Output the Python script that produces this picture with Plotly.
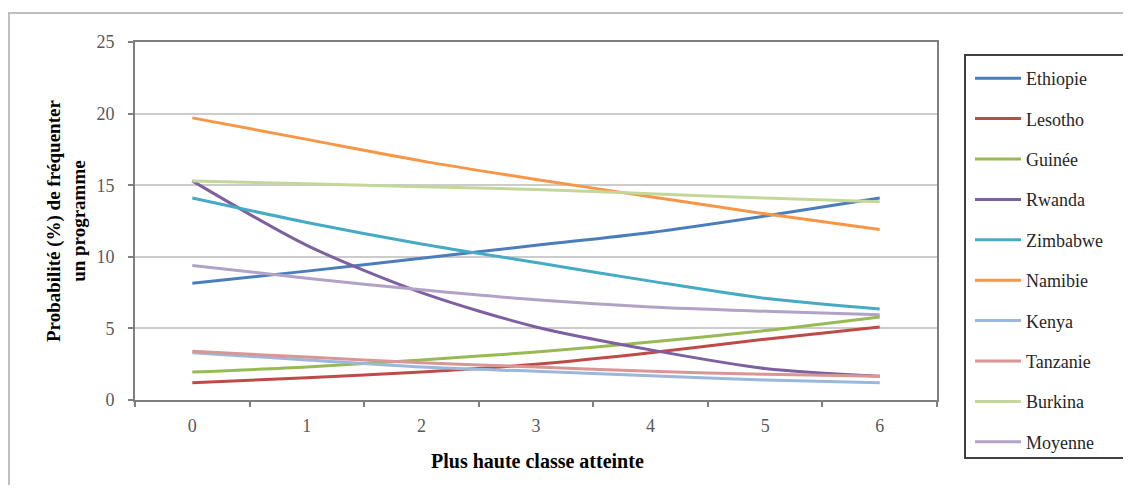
import plotly.graph_objects as go

# ---- data ----
classes = ["0", "1", "2", "3", "4", "5", "6"]
series_names = ["Ethiopie", "Lesotho", "Guinée", "Rwanda", "Zimbabwe",
                "Namibie", "Kenya", "Tanzanie", "Burkina", "Moyenne"]
ethiopie = [8.15, 9.0, 9.9, 10.8, 11.7, 12.85, 14.1]
lesotho = [1.2, 1.55, 1.95, 2.5, 3.3, 4.25, 5.1]
guinee = [1.95, 2.3, 2.8, 3.35, 4.05, 4.85, 5.8]
rwanda = [15.3, 10.8, 7.5, 5.1, 3.5, 2.2, 1.65]
zimbabwe = [14.1, 12.4, 10.9, 9.6, 8.3, 7.1, 6.35]
namibie = [19.7, 18.2, 16.7, 15.4, 14.2, 13.0, 11.9]
kenya = [3.3, 2.8, 2.3, 2.0, 1.7, 1.4, 1.2]
tanzanie = [3.4, 3.0, 2.6, 2.3, 2.0, 1.8, 1.65]
burkina = [15.3, 15.1, 14.9, 14.7, 14.4, 14.1, 13.85]
moyenne = [9.4, 8.5, 7.7, 7.0, 6.5, 6.2, 5.95]
y_ticks = [0, 5, 10, 15, 20, 25]

values = [ethiopie, lesotho, guinee, rwanda, zimbabwe,
          namibie, kenya, tanzanie, burkina, moyenne]
colors = ["#4A7EBB", "#BE4B48", "#98B954", "#7D60A0", "#46AAC5",
          "#F79646", "#9BB7DB", "#DA9694", "#C4D79B", "#B3A2C7"]

FONT = "Liberation Serif"

fig = go.Figure()
for name, vals, col in zip(series_names, values, colors):
    fig.add_trace(go.Scatter(
        x=classes, y=vals, name=name, mode="lines",
        line=dict(color=col, width=3, shape="spline", smoothing=0.8),
        legendgroup=name,
    ))

# pixel geometry helpers (reference pixel coords; page body adds 8px offset)
OFF = 8
W, H = 1131 - 2 * OFF, 493 - 2 * OFF
PLOT_L, PLOT_R, PLOT_T, PLOT_B = 135, 937, 42, 400
L = PLOT_L - OFF
T = PLOT_T - OFF
R = W - (PLOT_R - OFF)
B = H - (PLOT_B - OFF)
PW, PH = W - L - R, H - T - B


def px(xp):
    return (xp - OFF - L) / PW


def py(yp):
    return (H - B - (yp - OFF)) / PH


fig.update_layout(
    width=W, height=H,
    margin=dict(l=L, r=R, t=T, b=B),
    paper_bgcolor="white", plot_bgcolor="white",
    font=dict(family=FONT, size=18, color="#000000"),
    showlegend=True,
    legend=dict(
        x=px(970), y=py(60), xanchor="left", yanchor="top",
        bgcolor="rgba(0,0,0,0)", borderwidth=0,
        font=dict(family=FONT, size=18, color="#262626"),
        tracegroupgap=14, itemwidth=46, maxheight=440,
    ),
    xaxis=dict(
        type="category", range=[-0.5, 6.5],
        tickson="boundaries", ticks="outside", ticklen=5, tickwidth=2,
        tickcolor="#808080",
        showline=True, linecolor="#7F7F7F", linewidth=2, mirror=True,
        showgrid=False, zeroline=False,
        tickfont=dict(family=FONT, size=18, color="#595959"),
        ticklabelstandoff=8,
    ),
    yaxis=dict(
        range=[0, 25], tickvals=y_ticks,
        ticks="outside", ticklen=5, tickwidth=2, tickcolor="#808080",
        showline=True, linecolor="#7F7F7F", linewidth=2, mirror=True,
        showgrid=True, gridcolor="#CCCCCC", gridwidth=2, zeroline=False,
        tickfont=dict(family=FONT, size=18, color="#595959"),
        ticklabelstandoff=10,
    ),
    shapes=[
        # outer chart border
        dict(type="rect", xref="paper", yref="paper",
             x0=px(9), x1=px(1140), y0=py(500), y1=py(13),
             line=dict(color="#BFBFBF", width=2), layer="below"),
        # legend frame
        dict(type="rect", xref="paper", yref="paper",
             x0=px(965), x1=px(1126), y0=py(458), y1=py(55),
             line=dict(color="#404040", width=2)),
    ],
    annotations=[
        dict(text="<b>Probabilité (%) de fréquenter<br>un programme</b>",
             xref="paper", yref="paper", x=px(66), y=py(221),
             xanchor="center", yanchor="middle", textangle=-90,
             showarrow=False, font=dict(family=FONT, size=19, color="#000000")),
        dict(text="<b>Plus haute classe atteinte</b>",
             xref="paper", yref="paper", x=px(537), y=py(461),
             xanchor="center", yanchor="middle",
             showarrow=False, font=dict(family=FONT, size=20, color="#000000")),
    ],
)

fig.write_html("out.html")
